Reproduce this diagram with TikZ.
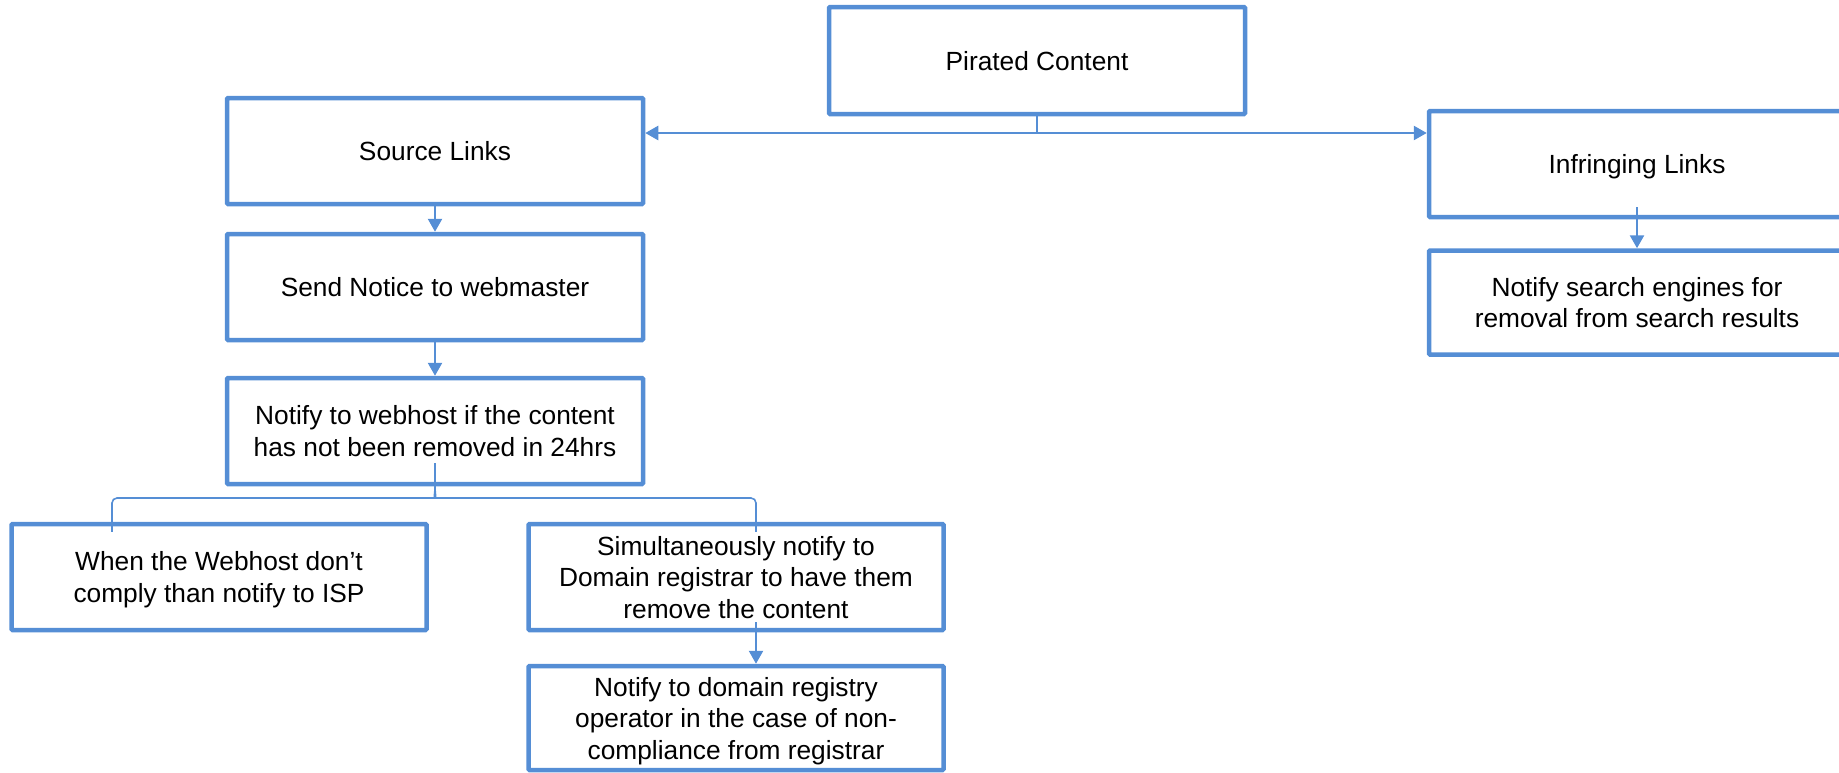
\documentclass[tikz,border=0pt]{standalone}
\usepackage{fontspec}
\setmainfont{Liberation Sans}
\usetikzlibrary{arrows.meta,calc}
\definecolor{boxblue}{RGB}{85,142,213}
\newcommand\lastln[1]{\raisebox{0pt}[\height][0pt]{#1}}
\begin{document}
\begin{tikzpicture}[x=1pt,y=-1pt,
  box/.style={draw=boxblue,line width=4.5pt,rounded corners=1pt,fill=white,
    minimum width=416pt,minimum height=106pt,align=center,inner sep=4pt,
    font=\fontsize{26.3}{31.5}\selectfont},
  conn/.style={draw=boxblue,line width=2.5pt,-{Triangle[length=13pt,width=14pt]}},
  thinline/.style={draw=boxblue,line width=1.6pt},
  bracestyle/.style={draw=boxblue,line width=1.6pt,rounded corners=5pt}]
\useasboundingbox (0,0) rectangle (1839,772);
\clip (0,0) rectangle (1839,772);

\node[box,minimum height=107pt] (pirated) at (1037,60.5) {\lastln{Pirated Content}};
\node[box] (source) at (435,151) {\lastln{Source Links}};
\node[box] (send) at (435,287) {\lastln{Send Notice to webmaster}};
\node[box] (webhost) at (435,431) {Notify to webhost if the content\\\lastln{has not been removed in 24hrs}};
\node[box] (infringing) at (1637,164) {\lastln{Infringing Links}};
\node[box,minimum height=104pt] (search) at (1637,302.5) {Notify search engines for\\\lastln{removal from search results}};
\node[box,minimum width=415pt] (when) at (219,577) {When the Webhost don’t\\\lastln{comply than notify to ISP}};
\node[box,minimum width=415pt] (simul) at (736,577) {Simultaneously notify to\\Domain registrar to have them\\\lastln{remove the content}};
\node[box,minimum width=415pt,minimum height=104pt] (registry) at (736,718) {Notify to domain registry\\operator in the case of non-\\\lastln{compliance from registrar}};

% top split
\coordinate (split) at (pirated.south |- 0,133);
\draw[thinline] (pirated.south) -- (split);
\draw[conn] (split) -- (split -| source.east);
\draw[conn] (split) -- (split -| infringing.west);

% left column
\draw[conn] (source.south) -- (send.north);
\draw[conn] (send.south) -- (webhost.north);

% right column
\draw[conn] ($(infringing.south)+(0,-12)$) -- (search.north);

% brace under webhost
\coordinate (bstub) at ($(webhost.south)+(0,-23)$);
\coordinate (btip) at ($(webhost.south)+(0,0)$);
\coordinate (bleft) at ($(when.north)+(-107,10)$);
\coordinate (bright) at ($(simul.north)+(20,10)$);
\draw[thinline] (bstub) -- (btip);
\draw[bracestyle] (bleft) |- (430,498) .. controls (433.5,498) and (435,494) .. (btip);
\draw[bracestyle] (bright) |- (440,498) .. controls (436.5,498) and (435,494) .. (btip);

% simul to registry
\draw[conn] ($(simul.south)+(20,-10)$) -- ($(registry.north)+(20,0)$);
\end{tikzpicture}
\end{document}
